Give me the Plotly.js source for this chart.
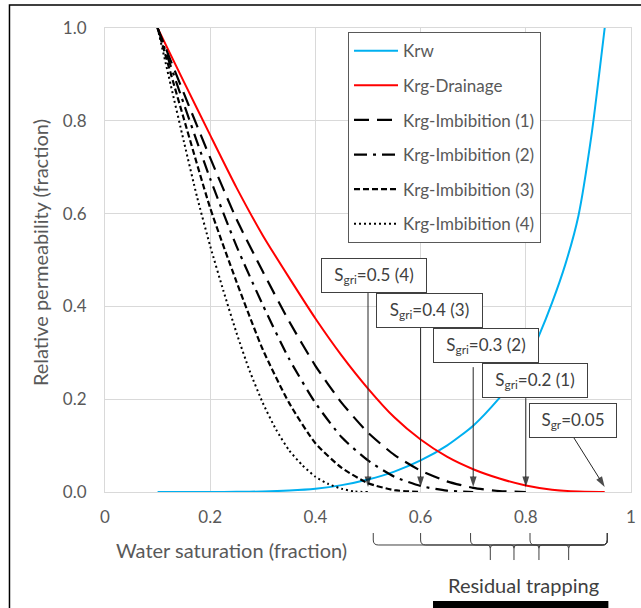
<!DOCTYPE html>
<html>
<head>
<meta charset="utf-8">
<script src="https://cdn.plot.ly/plotly-3.0.1.min.js"></script>
<style>html,body{margin:0;padding:0;background:#fff;}#chart{width:641px;height:608px;}</style>
</head>
<body>
<div id="chart"></div>
<script>
// ---------- data ----------
const swKrw = [0.10,0.15,0.20,0.25,0.30,0.35,0.40,0.45,0.50,0.55,0.60,0.65,0.70,0.75,0.80,0.825,0.85,0.875,0.90,0.925,0.95];
const krw   = [0,0,0.0001,0.0003,0.0011,0.0032,0.0071,0.0148,0.027,0.044,0.068,0.100,0.143,0.203,0.275,0.337,0.408,0.49,0.595,0.77,1.0];

const swDrain  = [0.10,0.15,0.20,0.25,0.30,0.35,0.40,0.45,0.50,0.55,0.60,0.65,0.70,0.75,0.80,0.85,0.90,0.95];
const krgDrain = [1.0,0.884,0.769,0.656,0.553,0.462,0.374,0.294,0.223,0.161,0.113,0.076,0.049,0.029,0.014,0.005,0.001,0];

const swImb1  = [0.10,0.15,0.20,0.25,0.30,0.35,0.40,0.45,0.50,0.55,0.60,0.65,0.70,0.75,0.80];
const krgImb1 = [1.0,0.859,0.720,0.588,0.475,0.368,0.272,0.192,0.128,0.080,0.046,0.023,0.009,0.002,0];

const swImb2  = [0.10,0.15,0.20,0.25,0.30,0.35,0.40,0.45,0.50,0.55,0.60,0.65,0.70];
const krgImb2 = [1.0,0.836,0.675,0.530,0.403,0.287,0.192,0.118,0.068,0.033,0.013,0.003,0];

const swImb3  = [0.10,0.15,0.20,0.25,0.30,0.35,0.40,0.45,0.50,0.55,0.60];
const krgImb3 = [1.0,0.804,0.612,0.453,0.307,0.192,0.105,0.052,0.019,0.004,0];

const swImb4  = [0.100,0.125,0.150,0.175,0.200,0.225,0.250,0.275,0.300,0.325,0.350,0.375,0.400,0.425,0.450,0.475,0.500];
const krgImb4 = [1.0,0.877,0.755,0.636,0.530,0.434,0.343,0.261,0.192,0.135,0.090,0.058,0.033,0.017,0.007,0.001,0];

const seriesNames = ['Krw','Krg-Drainage','Krg-Imbibition (1)','Krg-Imbibition (2)','Krg-Imbibition (3)','Krg-Imbibition (4)'];

// residual-saturation labels and the water saturation they point to
const labelTexts = ['S<sub>gri</sub>=0.5 (4)','S<sub>gri</sub>=0.4 (3)','S<sub>gri</sub>=0.3 (2)','S<sub>gri</sub>=0.2 (1)','S<sub>gr</sub>=0.05'];
const labelSw    = [0.5,0.6,0.7,0.8,0.95];

// braces under the axis (start Sw of each trapped range, common end)
const braceStart = [0.51,0.60,0.695,0.808];
const braceEnd   = 0.955;

const xTickVals = [0,0.2,0.4,0.6,0.8,1];
const xTickText = ['0','0.2','0.4','0.6','0.8','1'];
const yTickVals = [0,0.2,0.4,0.6,0.8,1];
const yTickText = ['0.0','0.2','0.4','0.6','0.8','1.0'];

// ---------- traces ----------
const xs = [swKrw, swDrain, swImb1, swImb2, swImb3, swImb4];
const ys = [krw, krgDrain, krgImb1, krgImb2, krgImb3, krgImb4];
const lineStyles = [
  {color:'#00b0f0', width:2, dash:'solid'},
  {color:'#ff0000', width:2, dash:'solid'},
  {color:'#000000', width:2.2, dash:'15px,8px'},
  {color:'#000000', width:2.2, dash:'13px,6px,3px,6px'},
  {color:'#000000', width:2.2, dash:'6px,3px'},
  {color:'#000000', width:2, dash:'2px,3px'}
];
const traces = seriesNames.map((n,i)=>({
  type:'scatter', mode:'lines', name:n, x:xs[i], y:ys[i],
  legendgroup:'g'+i,
  line:Object.assign({shape:'spline', smoothing:0.6}, lineStyles[i]),
  hoverinfo:'skip'
}));

// arrows from the label boxes to the residual points
const arrowTail = [[0.5,0.4288],[0.6,0.3533],[0.7,0.2691],[0.8,0.2022],[0.8916,0.1164]];
const arrowTipY = 0.011;
labelSw.forEach((sw,i)=>{
  traces.push({
    type:'scatter', mode:'lines+markers', showlegend:false, hoverinfo:'skip',
    x:[arrowTail[i][0], sw], y:[arrowTail[i][1], arrowTipY],
    line:{color:'#262626', width:1},
    marker:{symbol:'arrow', size:[0,11], angleref:'previous', color:'#000000', line:{width:0}},
    cliponaxis:false
  });
});

// ---------- annotations ----------
const FONT = 'Lato, "Open Sans", sans-serif';
const boxPos = [ // left (data x), top (data y), width px
  [0.4106,0.504,104],[0.515,0.429,105],[0.6236,0.353,104],[0.7167,0.278,104],[0.806,0.191,86]
];
const annotations = [];
labelTexts.forEach((t,i)=>{
  annotations.push({
    xref:'x', yref:'y', x:boxPos[i][0], y:boxPos[i][1],
    xanchor:'left', yanchor:'top', width:boxPos[i][2], height:33,
    text:t, showarrow:false, bgcolor:'#ffffff', bordercolor:'#404040',
    borderwidth:1, borderpad:0, align:'center', valign:'middle',
    font:{family:FONT, size:17, color:'#404040'}
  });
});
annotations.push({
  xref:'paper', yref:'paper', x:0.2405, y:-0.125, xanchor:'center', yanchor:'middle',
  text:'Water saturation (fraction)', showarrow:false,
  font:{family:FONT, size:20, color:'#595959'}
});
annotations.push({
  xref:'paper', yref:'paper', x:-0.1236, y:0.517, xanchor:'center', yanchor:'middle',
  text:'Relative permeability (fraction)', showarrow:false, textangle:-90,
  font:{family:FONT, size:20, color:'#595959'}
});
annotations.push({
  xref:'paper', yref:'paper', x:0.7947, y:-0.2004, xanchor:'center', yanchor:'middle',
  text:'Residual trapping', showarrow:false,
  font:{family:FONT, size:20, color:'#404040'}
});

// ---------- shapes ----------
const f = v => v.toFixed(4);
const yTop = -0.0884, yH = -0.1142, yB = -0.1466, rx = 0.0095, ry = 0.0108, crx = 0.006, cry = 0.0075;
const shapes = braceStart.map(x0=>{
  const x1 = braceEnd, xc = (x0 + x1) / 2;
  const d = 'M'+f(x0)+','+f(yTop)+' L'+f(x0)+','+f(yH+ry)+' Q'+f(x0)+','+f(yH)+' '+f(x0+rx)+','+f(yH)+
    ' L'+f(xc-crx)+','+f(yH)+' Q'+f(xc)+','+f(yH)+' '+f(xc)+','+f(yH-cry)+' L'+f(xc)+','+f(yB)+
    ' M'+f(xc)+','+f(yH-cry)+' Q'+f(xc)+','+f(yH)+' '+f(xc+crx)+','+f(yH)+
    ' L'+f(x1-rx)+','+f(yH)+' Q'+f(x1)+','+f(yH)+' '+f(x1)+','+f(yH+ry)+' L'+f(x1)+','+f(yTop);
  return {type:'path', xref:'x', yref:'paper', path:d, line:{color:'#404040', width:1}};
});
// outer frame of the figure
shapes.push({type:'rect', xref:'paper', yref:'paper', x0:-0.1816, x1:1.04, y0:-0.30, y1:1.0496,
  line:{color:'#000000', width:1.5}, fillcolor:'rgba(0,0,0,0)'});
// black bar at the bottom
shapes.push({type:'rect', xref:'paper', yref:'paper', x0:0.6236, x1:0.957, y0:-0.2349, y1:-0.28,
  line:{width:0}, fillcolor:'#000000'});

const axisCommon = {
  range:[0,1], showgrid:true, gridcolor:'#d9d9d9', gridwidth:1, zeroline:false,
  showline:true, mirror:true, linecolor:'#d9d9d9', linewidth:1, ticks:'',
  tickfont:{family:FONT, size:17, color:'#595959'}, fixedrange:true
};

const layout = {
  width:641, height:608,
  margin:{l:105, r:10, t:28, b:116, pad:0},
  paper_bgcolor:'#ffffff', plot_bgcolor:'#ffffff',
  font:{family:FONT, size:17, color:'#595959'},
  showlegend:true,
  legend:{x:0.462, y:0.991, xanchor:'left', yanchor:'top', bgcolor:'#ffffff',
    bordercolor:'#595959', borderwidth:1, tracegroupgap:9.5, itemwidth:44,
    font:{family:FONT, size:17, color:'#595959'}},
  xaxis:Object.assign({}, axisCommon, {tickvals:xTickVals, ticktext:xTickText, ticklabelstandoff:10}),
  yaxis:Object.assign({}, axisCommon, {tickvals:yTickVals, ticktext:yTickText, ticklabelstandoff:14}),
  annotations:annotations,
  shapes:shapes
};

Plotly.newPlot('chart', traces, layout, {displayModeBar:false, staticPlot:true});
</script>
</body>
</html>
